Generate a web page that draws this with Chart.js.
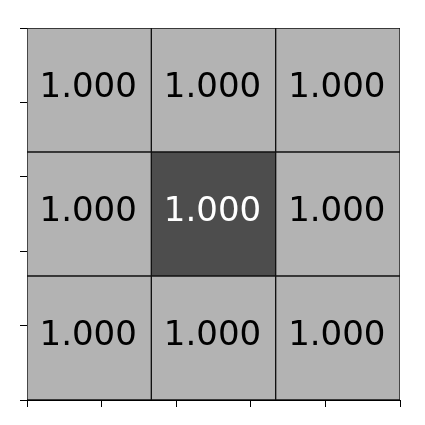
<!DOCTYPE html>
<html>
<head>
<meta charset="utf-8">
<script src="https://cdn.jsdelivr.net/npm/chart.js@4"></script>
<style>
  html, body { margin: 0; padding: 0; background: #ffffff; }
  #wrap { width: 425px; height: 425px; }
</style>
</head>
<body>
<div id="wrap"><canvas id="c" width="425" height="425"></canvas></div>
<script>
// ---- data ----
const columns = ['0', '1', '2'];
const rowTop = [1.000, 1.000, 1.000];
const rowMiddle = [1.000, 1.000, 1.000];
const rowBottom = [1.000, 1.000, 1.000];
const shadeTop = [0, 0, 0];
const shadeMiddle = [0, 1, 0];
const shadeBottom = [0, 0, 0];
const xTickValues = [0, 1, 2, 3, 4, 5];
const yTickValues = [0, 1, 2, 3, 4, 5];

const LIGHT = '#b3b3b3';
const DARK = '#4d4d4d';

// rows listed bottom-to-top on the value axis
const rows = [
  { values: rowBottom, shade: shadeBottom, level: 0 },
  { values: rowMiddle, shade: shadeMiddle, level: 1 },
  { values: rowTop, shade: shadeTop, level: 2 }
];

const datasets = rows.map(r => ({
  data: r.values.map(() => [r.level, r.level + 1]),
  cellValues: r.values,
  shade: r.shade,
  backgroundColor: r.shade.map(s => s ? DARK : LIGHT),
  borderColor: '#111111',
  borderWidth: 1,
  borderSkipped: false,
  grouped: false,
  barPercentage: 1,
  categoryPercentage: 1
}));

const valueLabels = {
  id: 'valueLabels',
  afterDatasetsDraw(chart) {
    const ctx = chart.ctx;
    ctx.save();
    ctx.font = '34px "DejaVu Sans"';
    ctx.textAlign = 'center';
    ctx.textBaseline = 'alphabetic';
    chart.data.datasets.forEach((ds, di) => {
      const meta = chart.getDatasetMeta(di);
      meta.data.forEach((el, i) => {
        const p = el.getCenterPoint();
        ctx.fillStyle = ds.shade[i] ? '#ffffff' : '#000000';
        ctx.fillText(ds.cellValues[i].toFixed(3), p.x - 1, p.y + 7);
      });
    });
    ctx.restore();
  }
};

function tickAxis(position, vals) {
  return {
    type: 'linear',
    position: position,
    offset: false,
    min: vals[0],
    max: vals[vals.length - 1],
    afterBuildTicks(scale) { scale.ticks = vals.map(v => ({ value: v })); },
    ticks: { display: false },
    grid: { offset: false, drawOnChartArea: false, drawTicks: true, tickLength: 7, color: '#000000', lineWidth: 1 },
    border: { display: true, color: '#000000', width: 1 },
    afterFit(scale) {
      if (position === 'left') scale.width = 7; else scale.height = 7;
    }
  };
}

new Chart(document.getElementById('c'), {
  type: 'bar',
  data: { labels: columns, datasets: datasets },
  options: {
    responsive: false,
    animation: false,
    devicePixelRatio: 1,
    layout: { padding: { left: 20, top: 28, right: 25, bottom: 18 } },
    plugins: { legend: { display: false }, tooltip: { enabled: false } },
    scales: {
      x: { display: false, offset: true },
      y: { display: false, min: 0, max: 3 },
      xt: tickAxis('bottom', xTickValues),
      yt: tickAxis('left', yTickValues)
    }
  },
  plugins: [valueLabels]
});
</script>
</body>
</html>
